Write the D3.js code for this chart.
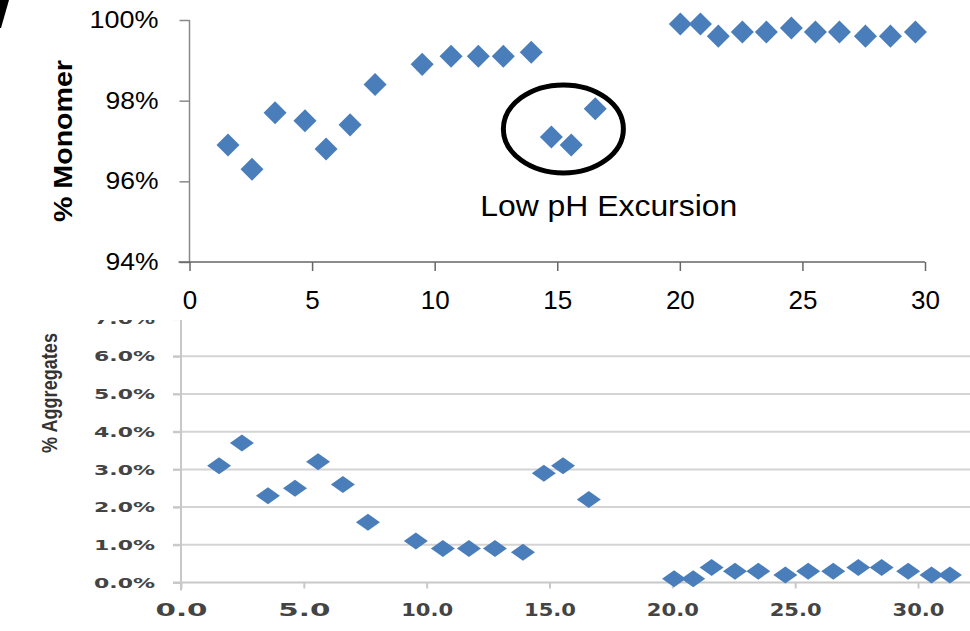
<!DOCTYPE html>
<html>
<head>
<meta charset="utf-8">
<script src="https://cdnjs.cloudflare.com/ajax/libs/d3/7.8.5/d3.min.js"></script>
<style>
  body { margin: 0; background: #fff; }
  svg { display: block; }
</style>
</head>
<body>
<script>
// monomer panel (top)
var monomerDays = [1.57, 2.55, 3.49, 4.71, 5.57, 6.55, 7.57, 9.49, 10.67, 11.78, 12.8, 13.94, 14.76, 15.57, 16.55,
    20.02, 20.84, 21.57, 22.55, 23.53, 24.55, 25.53, 26.51, 27.57, 28.59, 29.61];
var monomerPct = [96.9, 96.3, 97.7, 97.5, 96.8, 97.4, 98.4, 98.9, 99.1, 99.1, 99.1, 99.2, 97.1, 96.9, 97.8,
    99.9, 99.9, 99.6, 99.7, 99.7, 99.8, 99.7, 99.7, 99.6, 99.6, 99.7];
var monomerYTicks = [94, 96, 98, 100];
var monomerXTicks = [0, 5, 10, 15, 20, 25, 30];

// aggregates panel (bottom)
var aggDays = [1.55, 2.48, 3.54, 4.64, 5.58, 6.59, 7.61, 9.56, 10.66, 11.72, 12.78, 13.92, 14.77, 15.55, 16.6,
    20.07, 20.85, 21.6, 22.55, 23.5, 24.6, 25.53, 26.55, 27.57, 28.52, 29.6, 30.55, 31.3];
var aggPct = [3.1, 3.7, 2.3, 2.5, 3.2, 2.6, 1.6, 1.1, 0.9, 0.9, 0.9, 0.8, 2.9, 3.1, 2.2,
    0.1, 0.1, 0.4, 0.3, 0.3, 0.2, 0.3, 0.3, 0.4, 0.4, 0.3, 0.2, 0.2];
var aggYTicks = [0, 1, 2, 3, 4, 5, 6, 7];
var aggXTicks = [0, 5, 10, 15, 20, 25, 30];

var annotation = "Low pH Excursion";
var blue = "#4a7ebb";

var width = 970, height = 631;

var svg = d3.select("body")
    .append("svg")
    .attr("width", width)
    .attr("height", height);

// ---------- bottom panel (drawn first, the top one overlaps it) ----------
var xAgg = d3.scaleLinear().domain([0, 30]).range([181, 918]);
var yAgg = d3.scaleLinear().domain([0, 7]).range([582.5, 318.6]);

var bottomPanel = svg.append("g").attr("class", "aggregates");

// horizontal gridlines
bottomPanel.selectAll(".grid")
    .data(aggYTicks.slice(1))
    .enter().append("line")
    .attr("class", "grid")
    .attr("x1", 173)
    .attr("x2", width + 10)
    .attr("y1", function (d) { return yAgg(d); })
    .attr("y2", function (d) { return yAgg(d); })
    .attr("stroke", "#d4d4d4")
    .attr("stroke-width", 2);

var gAggY = bottomPanel.append("g")
    .attr("transform", "translate(" + xAgg(0) + ",0)")
    .call(d3.axisLeft(yAgg).tickValues(aggYTicks).tickSize(8).tickPadding(18)
        .tickFormat(function (d) { return d.toFixed(1) + "%"; }));
gAggY.select(".domain").attr("stroke", "#c8c8c8").attr("stroke-width", 2)
    .attr("d", "M0," + yAgg(7) + "V" + (yAgg(0) + 8));
gAggY.selectAll(".tick line").attr("stroke", "#c8c8c8").attr("stroke-width", 2);
gAggY.selectAll(".tick text")
    .attr("fill", "#444")
    .style("font-family", "DejaVu Sans")
    .style("font-weight", "bold")
    .style("font-size", "14.5px")
    .attr("textLength", 61)
    .attr("lengthAdjust", "spacingAndGlyphs");

var gAggX = bottomPanel.append("g")
    .attr("transform", "translate(0," + yAgg(0) + ")")
    .call(d3.axisBottom(xAgg).tickValues(aggXTicks).tickSize(6).tickPadding(15)
        .tickFormat(function (d) { return d.toFixed(1); }));
gAggX.select(".domain").attr("stroke", "#c8c8c8").attr("stroke-width", 2)
    .attr("d", "M" + (xAgg(0) - 8) + ",0H" + (width + 10));
gAggX.selectAll(".tick line").attr("stroke", "#c8c8c8").attr("stroke-width", 2);
gAggX.selectAll(".tick text")
    .attr("fill", "#444")
    .style("font-family", "DejaVu Sans")
    .style("font-weight", "bold")
    .style("font-size", "17px")
    .attr("textLength", 52)
    .attr("lengthAdjust", "spacingAndGlyphs");

bottomPanel.append("text")
    .attr("transform", "translate(57,393) rotate(-90)")
    .attr("text-anchor", "middle")
    .attr("fill", "#333")
    .style("font-family", "Liberation Sans Narrow, Liberation Sans")
    .style("font-weight", "bold")
    .style("font-size", "22px")
    .attr("textLength", 120)
    .attr("lengthAdjust", "spacingAndGlyphs")
    .text("% Aggregates");

// flattened diamonds
var flatDiamond = "M-12,0L0,-8.5L12,0L0,8.5Z";
bottomPanel.selectAll(".pt")
    .data(aggDays)
    .enter().append("path")
    .attr("class", "pt")
    .attr("d", flatDiamond)
    .attr("transform", function (d, i) { return "translate(" + xAgg(d) + "," + yAgg(aggPct[i]) + ")"; })
    .attr("fill", blue);

// white sheet: the top panel sits over the head of the lower one
svg.append("rect")
    .attr("x", 0).attr("y", 0)
    .attr("width", width).attr("height", 320)
    .attr("fill", "#fff");

// ---------- top panel ----------
var xMono = d3.scaleLinear().domain([0, 30]).range([189.5, 925]);
var yMono = d3.scaleLinear().domain([94, 100]).range([262, 20]);

var topPanel = svg.append("g").attr("class", "monomer");

var gMonoY = topPanel.append("g")
    .attr("transform", "translate(" + xMono(0) + ",0)")
    .call(d3.axisLeft(yMono).tickValues(monomerYTicks).tickSize(10).tickPadding(21)
        .tickFormat(function (d) { return d + "%"; }));
gMonoY.select(".domain").attr("stroke", "#888").attr("stroke-width", 1.5)
    .attr("d", "M0," + yMono(100) + "V" + yMono(94));
gMonoY.selectAll(".tick line").attr("stroke", "#888").attr("stroke-width", 1.5);
gMonoY.selectAll(".tick text")
    .attr("fill", "#000")
    .style("font-family", "Liberation Sans")
    .style("font-size", "23px")
    .attr("textLength", function (d) { return d === 100 ? 69 : 53; })
    .attr("lengthAdjust", "spacingAndGlyphs");

var gMonoX = topPanel.append("g")
    .attr("transform", "translate(0," + yMono(94) + ")")
    .call(d3.axisBottom(xMono).tickValues(monomerXTicks).tickSize(9).tickPadding(20));
gMonoX.select(".domain").attr("stroke", "#666").attr("stroke-width", 1.5)
    .attr("d", "M" + (xMono(0) - 11) + ",0H" + xMono(30));
gMonoX.selectAll(".tick line").attr("stroke", "#666").attr("stroke-width", 1.5);
gMonoX.selectAll(".tick text")
    .attr("fill", "#000")
    .style("font-family", "Liberation Sans")
    .style("font-size", "26px");

topPanel.append("text")
    .attr("transform", "translate(72,141) rotate(-90)")
    .attr("text-anchor", "middle")
    .attr("fill", "#000")
    .style("font-family", "Liberation Sans")
    .style("font-weight", "bold")
    .style("font-size", "26px")
    .attr("textLength", 162)
    .attr("lengthAdjust", "spacingAndGlyphs")
    .text("% Monomer");

var diamond = d3.symbol().type(d3.symbolSquare).size(265);
topPanel.selectAll(".pt")
    .data(monomerDays)
    .enter().append("path")
    .attr("class", "pt")
    .attr("d", diamond)
    .attr("transform", function (d, i) {
        return "translate(" + xMono(d) + "," + yMono(monomerPct[i]) + ") rotate(45)";
    })
    .attr("fill", blue);

// circled excursion + label
topPanel.append("ellipse")
    .attr("cx", xMono(15.25))
    .attr("cy", yMono(97.3))
    .attr("rx", 60)
    .attr("ry", 44)
    .attr("fill", "none")
    .attr("stroke", "#000")
    .attr("stroke-width", 5);

topPanel.append("text")
    .attr("x", xMono(17.1))
    .attr("y", 216)
    .attr("text-anchor", "middle")
    .attr("fill", "#000")
    .style("font-family", "Liberation Sans")
    .style("font-size", "29px")
    .attr("textLength", 257)
    .attr("lengthAdjust", "spacingAndGlyphs")
    .text(annotation);

// corner fragment of a panel letter
svg.append("path")
    .attr("d", "M0,0L9,0L1,28L0,28Z")
    .attr("fill", "#000");
</script>
</body>
</html>
